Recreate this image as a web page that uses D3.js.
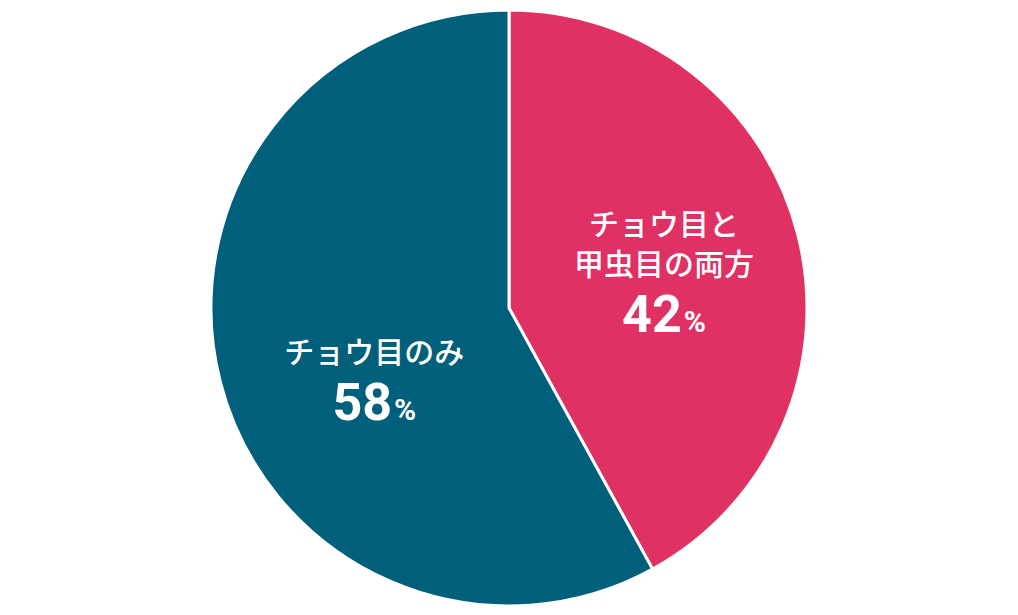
<!DOCTYPE html>
<html>
<head>
<meta charset="utf-8">
<script src="https://cdn.jsdelivr.net/npm/d3@7"></script>
<style>
  body { margin: 0; background: #fff; }
  svg { display: block; }
</style>
</head>
<body>
<div id="chart"></div>
<script>
var labels = [["チョウ目と", "甲虫目の両方"], ["チョウ目のみ"]];
var values = [42, 58];
var colors = ["#e03164", "#00607b"];

var width = 1018, height = 615;
var cx = 509, cy = 308, radius = 298;

var svg = d3.select("#chart")
  .append("svg")
  .attr("width", width)
  .attr("height", height);

var g = svg.append("g")
  .attr("transform", "translate(" + cx + "," + cy + ")");

var pie = d3.pie().sort(null).value(function(d){ return d; });
var arcs = pie(values);

var arc = d3.arc().innerRadius(0).outerRadius(radius);

g.selectAll("path.slice")
  .data(arcs)
  .enter()
  .append("path")
  .attr("class", "slice")
  .attr("d", arc)
  .attr("fill", function(d, i){ return colors[i]; })
  .attr("stroke", "#fff")
  .attr("stroke-width", 3);

// label anchor radius per slice, then text lines stacked below
var labelArc = [d3.arc().innerRadius(160).outerRadius(160),
                d3.arc().innerRadius(139).outerRadius(139)];
var shiftY = [-33, 20];

var lbl = g.selectAll("g.label")
  .data(arcs)
  .enter()
  .append("g")
  .attr("class", "label")
  .attr("transform", function(d, i){
    var c = labelArc[i].centroid(d);
    return "translate(" + c[0] + "," + (c[1] + shiftY[i]) + ")";
  });

lbl.each(function(d, i){
  var el = d3.select(this);
  labels[i].forEach(function(line, j){
    el.append("text")
      .attr("y", j * 40)
      .attr("text-anchor", "middle")
      .attr("fill", "#fff")
      .attr("font-family", "'Noto Sans CJK JP', sans-serif")
      .attr("font-weight", 500)
      .attr("font-size", 30)
      .text(line);
  });
  var pct = el.append("text")
    .attr("y", (labels[i].length - 1) * 40 + 57)
    .attr("text-anchor", "middle")
    .attr("fill", "#fff")
    .attr("font-family", "Roboto, sans-serif")
    .attr("font-weight", 700)
    .attr("font-size", 52);
  pct.append("tspan").text(values[i]);
  pct.append("tspan").attr("font-size", 30).attr("dx", 2).text("%");
});
</script>
</body>
</html>
